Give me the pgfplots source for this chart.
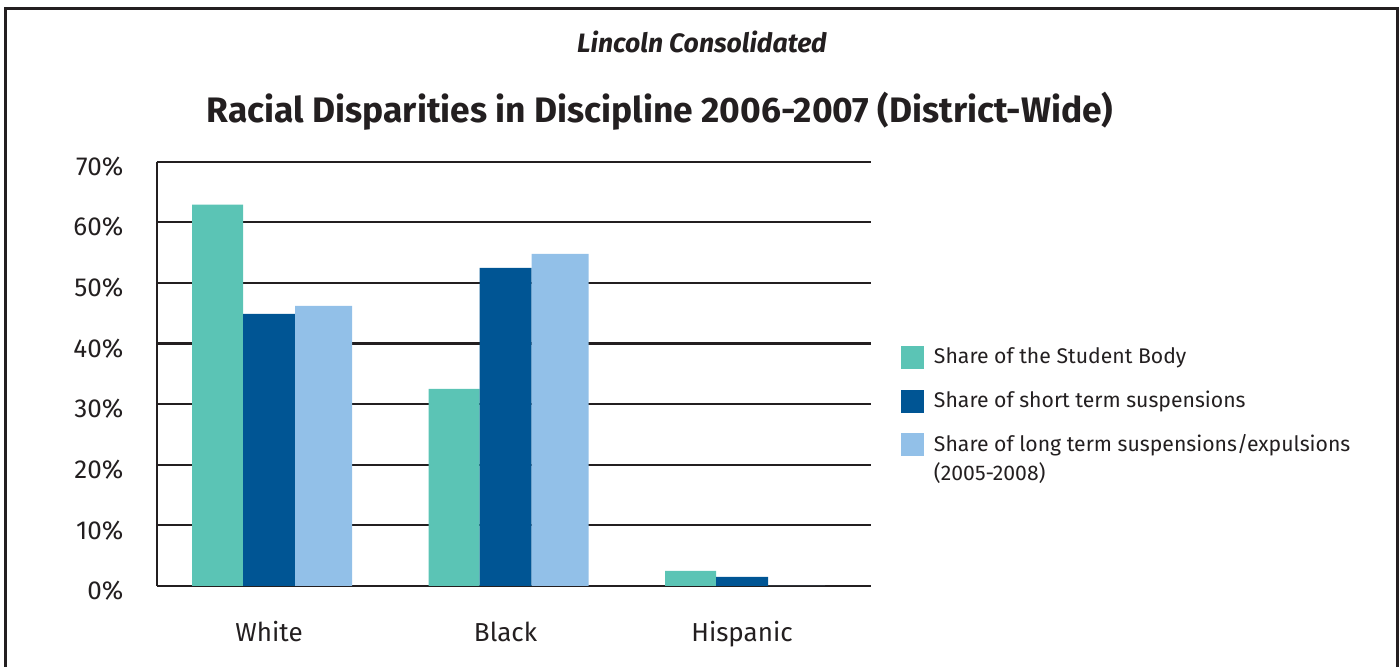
\documentclass[border=0pt]{standalone}
\usepackage{fontspec}
\setmainfont{Fira Sans}
\usepackage{pgfplots}
\pgfplotsset{compat=1.18}
\definecolor{teal1}{HTML}{5BC4B5}
\definecolor{navy1}{HTML}{005594}
\definecolor{sky1}{HTML}{92C0E8}
\definecolor{ink}{HTML}{231F20}
\begin{document}
\begin{tikzpicture}[x=1pt,y=1pt]
\path[use as bounding box] (0,0) rectangle (700,333.5);
\draw[ink, line width=1.5pt] (2.5,-10) -- (2.5,329.3) -- (698.7,329.3) -- (698.7,-10);
\node[font=\fontsize{13.3}{16}\selectfont\bfseries\itshape, text=ink, anchor=base, inner sep=0pt] at (351,307) {Lincoln Consolidated};
\node[font=\fontsize{17.7}{21}\selectfont\bfseries, text=ink, anchor=base, inner sep=0pt] at (330,272) {Racial Disparities in Discipline 2006-2007 (District-Wide)};
\begin{axis}[
  at={(78.35pt,40.5pt)}, anchor=south west,
  scale only axis, width=356.9pt, height=212.15pt,
  xmin=-0.475, xmax=2.543, ymin=0, ymax=70,
  axis x line*=bottom, axis y line*=left,
  axis line style={ink, line width=1.1pt, -},
  ymajorgrids, grid style={ink, line width=1.1pt},
  major tick length=0pt,
  ytick={0,10,20,30,40,50,60,70},
  yticklabels={0\%,10\%,20\%,30\%,40\%,50\%,60\%,70\%},
  xtick={0,1,2},
  xticklabels={White,Black,Hispanic},
  ticklabel style={font=\fontsize{13}{15}\selectfont, text=ink},
  yticklabel style={anchor=east, inner sep=0pt, xshift=-16.5pt, yshift=-2.4pt},
  xticklabel style={anchor=base, inner sep=0pt, yshift=-27.8pt},
  legend style={at={(1.0427,0.5656)}, anchor=north west, draw=none, fill=none,
    inner sep=0pt, outer sep=0pt, row sep=10.25pt, column sep=5pt,
    font=\fontsize{10.6}{14.5}\selectfont,
    nodes={inner sep=0pt, align=left, text=ink}},
  legend cell align=left,
]
\addplot[ybar, fill=teal1, draw=none, bar width=25.5pt, bar shift=-25.75pt,
  legend image code/.code={\fill[teal1] (0pt,-5.75pt) rectangle (11.5pt,5.75pt);}]
  coordinates {(0,62.9) (1,32.5) (2,2.5)};
\addlegendentry{Share of the Student Body}
\addplot[ybar, fill=navy1, draw=none, bar width=26pt, bar shift=0pt,
  legend image code/.code={\fill[navy1] (0pt,-5.75pt) rectangle (11.5pt,5.75pt);}]
  coordinates {(0,44.9) (1,52.5) (2,1.5)};
\addlegendentry{Share of short term suspensions}
\addplot[ybar, fill=sky1, draw=none, bar width=28.5pt, bar shift=27.25pt,
  legend image code/.code={\fill[sky1] (0pt,1.5pt) rectangle (11.5pt,13pt);}]
  coordinates {(0,46.2) (1,54.8) (2,0)};
\addlegendentry{Share of long term suspensions/expulsions\\(2005-2008)}
\end{axis}
\end{tikzpicture}
\end{document}
